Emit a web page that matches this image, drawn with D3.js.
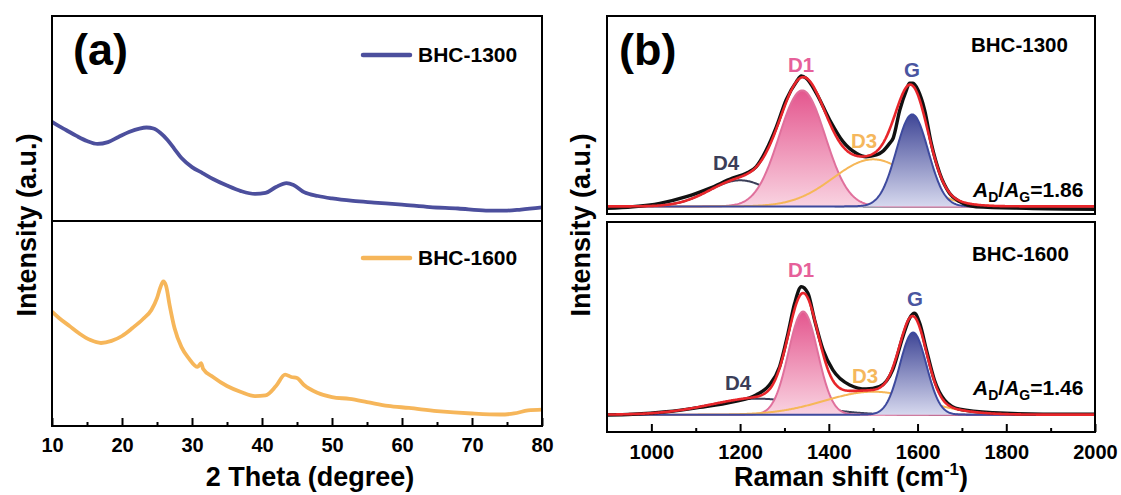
<!DOCTYPE html>
<html><head><meta charset="utf-8">
<script src="https://cdn.jsdelivr.net/npm/d3@7"></script>
<style>
html,body{margin:0;padding:0;background:#fff;}
svg{display:block;font-family:"Liberation Sans",Arial,Helvetica,sans-serif;font-weight:bold;}
</style></head><body>
<svg id="chart" width="1121" height="495"></svg>
<script>
// ---------------- DATA ----------------
const sampleNames = ["BHC-1300", "BHC-1600"];
const xrdMajorTicks = [10, 20, 30, 40, 50, 60, 70, 80];
const xrdMinorTicks = [15, 25, 35, 45, 55, 65, 75];
// XRD patterns: [2theta, intensity (a.u.)]
const xrd1300 = [[10,48.4],[11,46.3],[12,44.4],[13.5,41.5],[15,39.0],[16.5,37.6],[18,38.5],[19.5,41.0],[21,43.4],[22.5,45.1],[23.5,45.6],[24.5,45.1],[25.5,42.9],[26.5,39.5],[27.5,35.1],[28.5,30.7],[30,26.3],[31.5,23.4],[33,20.5],[35,17.3],[37,14.6],[39,13.2],[40.5,13.7],[42,16.6],[43.5,18.5],[44.5,17.6],[46,14.1],[48,12.2],[50,11.0],[53,9.8],[56,9.0],[60,8.0],[64,6.8],[68,6.1],[72,5.1],[75,5.1],[77,5.6],[80,6.6]];
const xrd1600 = [[10,55.8],[11,52.7],[12.5,48.8],[14,44.9],[15.5,41.9],[17,40.5],[18.5,41.5],[20,43.9],[21.5,47.8],[23,52.2],[24.2,56.6],[25,62.4],[25.5,67.8],[25.9,70.5],[26.3,68.3],[26.8,59.0],[27.5,47.8],[28.5,38.5],[29.5,33.2],[30.8,28.8],[31.3,30.7],[31.6,27.8],[33,23.9],[35,19.5],[37,16.6],[39,14.6],[40.5,14.9],[42,19.5],[43.3,25.1],[44.2,23.9],[45,23.4],[46,20.0],[48,16.1],[50,14.1],[52.5,13.2],[55,11.7],[58,9.8],[61,8.8],[65,7.3],[70,6.1],[74,5.6],[76,6.1],[78,7.6],[80,8.0]];

const ramanMajorTicks = [1000, 1200, 1400, 1600, 1800, 2000];
const ramanMinorTicks = [1100, 1300, 1500, 1700, 1900];
// Raman spectra: [shift (cm-1), intensity (a.u.)]
const raman1300 = [[900,-1.0],[958,-0.2],[1019,1.6],[1079,5.1],[1131,9.5],[1183,14.8],[1214,17.4],[1236,20.8],[1259,29.6],[1282,41.9],[1304,56.0],[1327,65.5],[1338,68.5],[1349,67.3],[1372,59.4],[1402,45.4],[1432,34.0],[1462,27.9],[1484,26.1],[1507,27.0],[1520,28.6],[1537,33.1],[1545,35.8],[1560,50.6],[1575,61.1],[1582,64.7],[1590,64.7],[1601,61.1],[1616,50.6],[1631,33.1],[1650,17.4],[1672,6.9],[1695,2.5],[1732,-0.2],[1845,-1.0],[2000,-1.5]];
const raman1600 = [[900,-0.2],[958,0.2],[1034,1.5],[1109,3.8],[1184,6.7],[1236,10.2],[1266,15.4],[1289,24.9],[1308,42.2],[1323,57.8],[1338,66.4],[1353,63.0],[1368,49.1],[1387,33.6],[1409,23.2],[1447,15.4],[1484,13.3],[1514,14.5],[1544,23.2],[1567,40.5],[1582,50.0],[1593,52.6],[1605,47.4],[1620,33.6],[1638,18.0],[1661,7.6],[1695,2.8],[1770,1.0],[1883,0.3],[2000,0.3]];

// Fitted Gaussian bands: order D4, D1, D3, G
const bandNames = ["D4", "D1", "D3", "G"];
const bands1300Center = [1200, 1340, 1500, 1588];
const bands1300Sigma  = [70, 52, 90, 36];
const bands1300Height = [13.7, 60.9, 24.7, 48.3];
const bands1600Center = [1240, 1342, 1500, 1590];
const bands1600Sigma  = [110, 33, 110, 30];
const bands1600Height = [8.3, 53.5, 11.9, 42.6];
const ratioValues = ["1.86", "1.46"];

// ---------------- DRAW ----------------
const svg = d3.select("#chart");
const FONT = '"Liberation Sans",Arial,Helvetica,sans-serif';
const defs = svg.append("defs");
function grad(id, top, bottom) {
  const g = defs.append("linearGradient").attr("id", id).attr("x1", 0).attr("y1", 0).attr("x2", 0).attr("y2", 1);
  g.append("stop").attr("offset", "0%").attr("stop-color", top);
  g.append("stop").attr("offset", "100%").attr("stop-color", bottom);
}
grad("gD1", "#e4568e", "#f9d3e1");
grad("gG", "#3f4696", "#d6d8ee");

// scales
const xA = d3.scaleLinear([10, 80], [52, 542]);
const yA1 = d3.scaleLinear([0, 100], [221, 16]);
const yA2 = d3.scaleLinear([0, 100], [426, 221]);
const xB = d3.scaleLinear([900, 2000], [607, 1095]);
const yB1 = d3.scaleLinear([-4, 100], [214, 16]);
const yB2 = d3.scaleLinear([-9, 100], [432, 222]);

// ---- panel (a) ----
const blue = "#4c4f9d", orange = "#f6b65a";
function xrdLine(data, y, color) {
  svg.append("path").datum(data)
    .attr("fill", "none").attr("stroke", color).attr("stroke-width", 3.8)
    .attr("stroke-linejoin", "round")
    .attr("d", d3.line().x(d => xA(d[0])).y(d => y(d[1])).curve(d3.curveMonotoneX));
}
xrdLine(xrd1300, yA1, blue);
xrdLine(xrd1600, yA2, orange);

function frame(x, y0, y1) {
  svg.append("rect").attr("x", x.range()[0]).attr("y", y1).attr("width", x.range()[1] - x.range()[0])
    .attr("height", y0 - y1).attr("fill", "none").attr("stroke", "#000").attr("stroke-width", 2);
}
frame(xA, 221, 16);
frame(xA, 426, 221);

function bottomAxis(x, y, major, minor, labelY) {
  const gMaj = svg.append("g").attr("transform", `translate(0,${y})`)
    .call(d3.axisBottom(x).tickValues(major).tickSize(-8).tickFormat(d3.format("d")));
  gMaj.select(".domain").remove();
  gMaj.selectAll("line").attr("stroke", "#000").attr("stroke-width", 2);
  gMaj.selectAll("text").attr("y", labelY).attr("dy", 0).attr("fill", "#000")
    .attr("font-size", 20).attr("font-weight", "bold").attr("font-family", FONT);
  const gMin = svg.append("g").attr("transform", `translate(0,${y})`)
    .call(d3.axisBottom(x).tickValues(minor).tickSize(-4).tickFormat(""));
  gMin.select(".domain").remove();
  gMin.selectAll("line").attr("stroke", "#000").attr("stroke-width", 2);
}
bottomAxis(xA, 426, xrdMajorTicks, xrdMinorTicks, 26);

function txt(x, y, s, size, color, anchor) {
  return svg.append("text").attr("x", x).attr("y", y).attr("font-size", size)
    .attr("fill", color || "#000").attr("text-anchor", anchor || "start").text(s);
}
txt(73, 65, "(a)", 45);
// legends
svg.append("line").attr("x1", 363).attr("x2", 410).attr("y1", 55).attr("y2", 55)
  .attr("stroke", blue).attr("stroke-width", 4.5).attr("stroke-linecap", "round");
txt(418, 62, sampleNames[0], 21);
svg.append("line").attr("x1", 363).attr("x2", 410).attr("y1", 258).attr("y2", 258)
  .attr("stroke", orange).attr("stroke-width", 4.5).attr("stroke-linecap", "round");
txt(418, 265, sampleNames[1], 21);
// axis titles
txt(310, 486, "2 Theta (degree)", 27, "#000", "middle");
svg.append("text").attr("transform", "translate(36,225) rotate(-90)")
  .attr("text-anchor", "middle").attr("font-size", 27).text("Intensity (a.u.)");

// ---- panel (b) ----
const grid = d3.range(900, 2001, 2);
const gauss = (x, c, s, h) => h * Math.exp(-((x - c) ** 2) / (2 * s * s));
const bandStyle = {
  D4: {stroke: "#3b3e58", fill: null},
  D1: {stroke: "#e0709c", fill: "url(#gD1)"},
  D3: {stroke: "#f6b758", fill: null},
  G:  {stroke: "#3e4a9e", fill: "url(#gG)"}
};
const labelColor = {D4: "#3b3e58", D1: "#e6609a", D3: "#f5b75c", G: "#4a55a0"};

function ramanPanel(y, centers, sigmas, heights, exp) {
  bandNames.forEach((name, i) => {
    const pts = grid.map(x => [x, gauss(x, centers[i], sigmas[i], heights[i])]);
    const st = bandStyle[name];
    if (st.fill) {
      svg.append("path").datum(pts).attr("fill", st.fill).attr("stroke", "none")
        .attr("d", d3.area().x(d => xB(d[0])).y0(y(0)).y1(d => y(d[1])));
    }
    svg.append("path").datum(pts).attr("fill", "none").attr("stroke", st.stroke).attr("stroke-width", 2)
      .attr("d", d3.line().x(d => xB(d[0])).y(d => y(d[1])));
  });
  svg.append("path").datum(exp).attr("fill", "none").attr("stroke", "#111").attr("stroke-width", 3.4)
    .attr("stroke-linejoin", "round")
    .attr("d", d3.line().x(d => xB(d[0])).y(d => y(d[1])).curve(d3.curveMonotoneX));
  const fit = grid.map(x => [x, d3.sum(bandNames, (n, i) => gauss(x, centers[i], sigmas[i], heights[i]))]);
  svg.append("path").datum(fit).attr("fill", "none").attr("stroke", "#e8262b").attr("stroke-width", 2.6)
    .attr("d", d3.line().x(d => xB(d[0])).y(d => y(d[1])));
}
ramanPanel(yB1, bands1300Center, bands1300Sigma, bands1300Height, raman1300);
ramanPanel(yB2, bands1600Center, bands1600Sigma, bands1600Height, raman1600);

frame(xB, 214, 16);
frame(xB, 432, 222);
bottomAxis(xB, 432, ramanMajorTicks, ramanMinorTicks, 27);

txt(619, 65, "(b)", 45);
txt(971, 52, sampleNames[0], 20.5);
txt(972, 261, sampleNames[1], 20.5);

const bandLabelPos1300 = {D4: [726, 170], D1: [801, 72], D3: [864, 148], G: [912, 77]};
const bandLabelPos1600 = {D4: [738, 390], D1: [801, 277], D3: [865, 383], G: [915, 306]};
bandNames.forEach(n => {
  txt(bandLabelPos1300[n][0], bandLabelPos1300[n][1], n, 20.5, labelColor[n], "middle");
  txt(bandLabelPos1600[n][0], bandLabelPos1600[n][1], n, 20.5, labelColor[n], "middle");
});

function ratio(x, y, val) {
  const t = svg.append("text").attr("x", x).attr("y", y).attr("font-size", 21);
  t.append("tspan").attr("font-style", "italic").text("A");
  t.append("tspan").attr("font-size", 14).attr("dy", 5).text("D");
  t.append("tspan").attr("dy", -5).text("/");
  t.append("tspan").attr("font-style", "italic").text("A");
  t.append("tspan").attr("font-size", 14).attr("dy", 5).text("G");
  t.append("tspan").attr("dy", -5).text("=" + val);
}
ratio(973, 197, ratioValues[0]);
ratio(973, 395, ratioValues[1]);

const rt = svg.append("text").attr("x", 851).attr("y", 486).attr("text-anchor", "middle").attr("font-size", 27);
rt.append("tspan").text("Raman shift (cm");
rt.append("tspan").attr("font-size", 17).attr("dy", -11).text("-1");
rt.append("tspan").attr("dy", 11).text(")");
svg.append("text").attr("transform", "translate(590,225) rotate(-90)")
  .attr("text-anchor", "middle").attr("font-size", 27).text("Intensity (a.u.)");
</script>
</body></html>
